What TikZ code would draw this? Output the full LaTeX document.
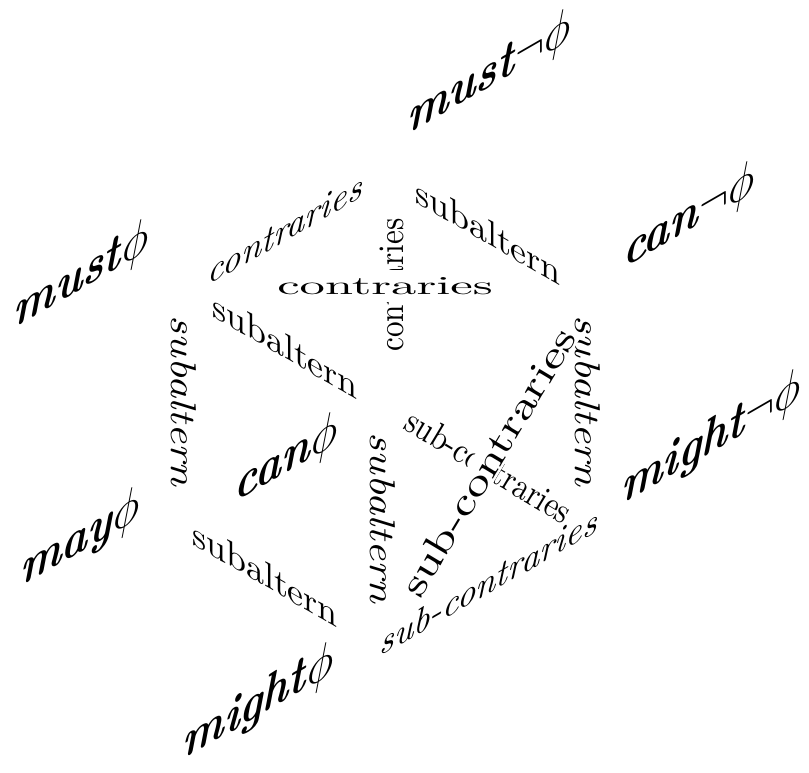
\RequirePackage{fix-cm}
\documentclass[tikz,border=0pt]{standalone}
\begin{document}
\begin{tikzpicture}[x=1bp,y=-1bp]
\tikzset{
  vtx/.style={font=\fontsize{10}{12}\selectfont, inner sep=0pt, scale=4.4, yslant=0.577, yscale=1.15},
  lab/.style={font=\fontsize{10}{12}\selectfont, inner sep=0pt, scale=3.6},
  labit/.style={lab, font=\fontsize{10}{12}\selectfont\itshape},
  upslant/.style={yslant=0.577},
  downslant/.style={yslant=-0.577},
  vertlab/.style={labit, rotate=-90, xscale=1.22},
}
\useasboundingbox (0,0) rectangle (809,773);
% vertices
\node[vtx] (mustp)  at (81,277)  {\textbf{\textit{must}}$\phi$};
\node[vtx] (mustn)  at (489,75)  {\textbf{\textit{must}}$\neg\phi$};
\node[vtx] (cann)   at (689,218) {\textbf{\textit{can}}$\neg\phi$};
\node[vtx] (canp)   at (286,460) {\textbf{\textit{can}}$\phi$};
\node[vtx] (mayp)   at (80,540)  {\textbf{\textit{may}}$\phi$};
\node[vtx] (mightn) at (711,440) {\textbf{\textit{might}}$\neg\phi$};
\node[vtx] (mightp) at (258,704) {\textbf{\textit{might}}$\phi$};
% edge labels
\node[labit, upslant]   (e1) at (285,230) {contraries};
\node[lab, downslant]   (e2) at (488,232) {subaltern};
\node[lab, rotate=90, xscale=0.87] (e4) at (392,285) {contraries};
\node[lab, xscale=1.41, yscale=0.72, fill=white, inner xsep=0.5pt, inner ysep=3pt] (e3) at (385,286) {contraries};
\node[lab, downslant]   (e5) at (285,346) {subaltern};
\node[vertlab]          (e6) at (184,401) {subaltern};
\node[vertlab]          (e7) at (588,401) {subaltern};
\node[vertlab]          (e8) at (383,518) {subaltern};
\node[lab, downslant]   (e9) at (265,574) {subaltern};
\node[labit, upslant]   (e10) at (488,582) {sub-contraries};
\node[lab, rotate=-31, xscale=0.86] (e11) at (489,466) {sub-contraries};
\node[lab, rotate=59, xscale=1.4, yscale=1.05, fill=white, inner sep=0.5pt] (e12) at (488,462) {sub-contraries};
\end{tikzpicture}
\end{document}
